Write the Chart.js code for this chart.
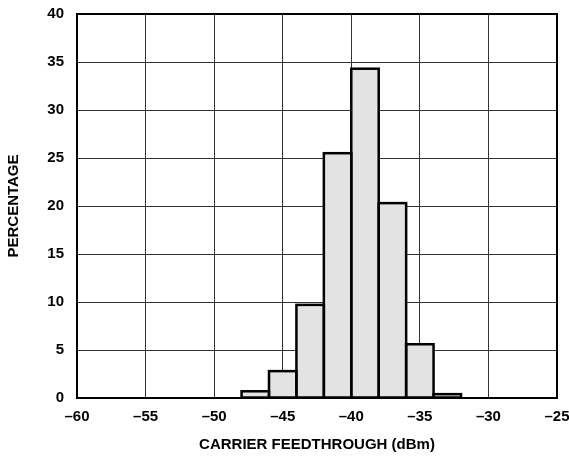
<!DOCTYPE html>
<html>
<head>
<meta charset="utf-8">
<script src="https://cdn.jsdelivr.net/npm/chart.js@4/dist/chart.umd.min.js"></script>
<style>
html,body{margin:0;padding:0;background:#fff;}
#wrap{position:relative;width:569px;height:457px;}
</style>
</head>
<body>
<div id="wrap"><canvas id="c" width="569" height="457"></canvas></div>
<script>
// Histogram bins (centre of each 2 dBm bin) and percentages
const binCenters = [-47, -45, -43, -41, -39, -37, -35, -33];
const percentages = [0.7, 2.8, 9.7, 25.5, 34.3, 20.3, 5.6, 0.4];
const xTicks = [-60, -55, -50, -45, -40, -35, -30, -25];
const yTicks = [0, 5, 10, 15, 20, 25, 30, 35, 40];

const fontFam = '"Liberation Sans", Arial, sans-serif';
const pts = binCenters.map((x, i) => ({x: x, y: percentages[i]}));

new Chart(document.getElementById('c'), {
  type: 'bar',
  data: {
    datasets: [{
      data: pts,
      backgroundColor: '#e3e3e3',
      borderColor: '#000',
      borderWidth: 0,
      barPercentage: 1,
      categoryPercentage: 1,
      grouped: false
    }]
  },
  options: {
    responsive: false,
    animation: false,
    devicePixelRatio: 1,
    layout: {padding: {top: 14, right: 0, left: 0, bottom: 0}},
    plugins: {legend: {display: false}, tooltip: {enabled: false}},
    scales: {
      x: {
        type: 'linear',
        min: -60, max: -25,
        offset: false,
        afterBuildTicks: (s) => { s.ticks = xTicks.map(v => ({value: v})); },
        afterFit: (s) => { s.height = 59; s.paddingRight = 12; s.paddingLeft = 0; },
        ticks: {
          color: '#000',
          font: {family: fontFam, size: 15, weight: 'bold'},
          padding: 10,
          maxRotation: 0,
          autoSkip: false,
          callback: (v) => (v < 0 ? '\u2013' + Math.abs(v) : String(v))
        },
        grid: {color: '#333', lineWidth: 1, drawTicks: false, offset: false},
        border: {color: '#000', width: 2},
        title: {
          display: true,
          text: 'CARRIER FEEDTHROUGH (dBm)',
          color: '#000',
          font: {family: fontFam, size: 15, weight: 'bold'},
          padding: {top: 0, bottom: 3}
        }
      },
      y: {
        min: 0, max: 40,
        afterBuildTicks: (s) => { s.ticks = yTicks.map(v => ({value: v})); },
        afterFit: (s) => { s.width = 77; s.paddingTop = 0; s.paddingBottom = 0; },
        ticks: {
          color: '#000',
          font: {family: fontFam, size: 15, weight: 'bold'},
          padding: 13
        },
        grid: {color: '#333', lineWidth: 1, drawTicks: false},
        border: {color: '#000', width: 2},
        title: {
          display: true,
          text: 'PERCENTAGE',
          color: '#000',
          font: {family: fontFam, size: 15, weight: 'bold'},
          padding: {top: 5, bottom: 0}
        }
      }
    }
  },
  plugins: [{
    id: 'outlines',
    afterDatasetsDraw(chart) {
      const ctx = chart.ctx;
      const meta = chart.getDatasetMeta(0);
      ctx.save();
      ctx.strokeStyle = '#000';
      ctx.lineWidth = 2.5;
      meta.data.forEach((bar) => {
        const p = bar.getProps(['x', 'y', 'base', 'width'], true);
        ctx.strokeRect(p.x - p.width / 2, p.y, p.width, p.base - p.y);
      });
      const a = chart.chartArea;
      ctx.lineWidth = 2;
      ctx.strokeRect(a.left, a.top, a.right - a.left, a.bottom - a.top);
      ctx.restore();
    }
  }]
});
</script>
</body>
</html>
